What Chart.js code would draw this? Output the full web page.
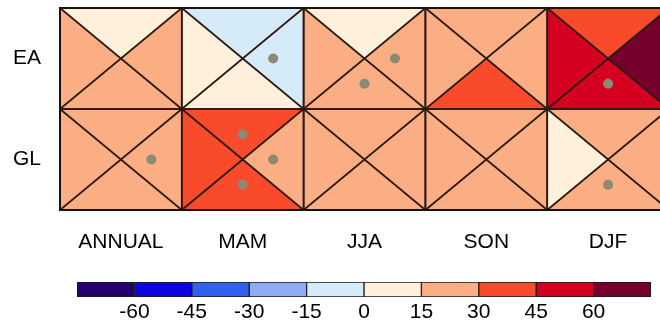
<!DOCTYPE html>
<html>
<head>
<meta charset="utf-8">
<script src="https://cdn.jsdelivr.net/npm/chart.js@4.4.1/dist/chart.umd.min.js"></script>
<style>
  html, body { margin: 0; padding: 0; background: #fff; width: 660px; height: 324px; overflow: hidden; }
  #grid-chart { position: absolute; left: 0; top: 0; }
  #bar-chart  { position: absolute; left: 0; top: 270px; }
</style>
</head>
<body>
<canvas id="grid-chart" width="680" height="324"></canvas>
<canvas id="bar-chart" width="660" height="54"></canvas>
<script>
// ── Data ──────────────────────────────────────────────────────
const COLUMNS = ['ANNUAL', 'MAM', 'JJA', 'SON', 'DJF'];
const ROWS    = ['EA', 'GL'];

// one value per triangle: [row][column]
const TOP_VALS    = [[ 8, -6, 10, 20, 38], [22, 38, 20, 22, 18]];
const RIGHT_VALS  = [[22, -8, 24, 22, 68], [25, 26, 20, 21, 22]];
const BOTTOM_VALS = [[22,  7, 20, 36, 52], [21, 40, 20, 20, 25]];
const LEFT_VALS   = [[22,  5, 21, 23, 50], [20, 35, 20, 23,  9]];

// significant triangles: [row, column, side]
const SIG_POINTS = [
  ['EA', 'MAM', 'right'], ['EA', 'JJA', 'right'], ['EA', 'JJA', 'bottom'],
  ['EA', 'DJF', 'bottom'], ['GL', 'ANNUAL', 'right'], ['GL', 'MAM', 'top'],
  ['GL', 'MAM', 'right'], ['GL', 'MAM', 'bottom'], ['GL', 'DJF', 'bottom'],
];

const LEVELS       = [-75, -60, -45, -30, -15, 0, 15, 30, 45, 60, 75];
const LEVEL_COLORS = ['#24006e', '#0c06e0', '#3460f2', '#8cadf4', '#d6ebfa',
                      '#fff0db', '#fbad84', '#fa4a2c', '#d5001f', '#74002b'];
const BAR_TICKS    = [-60, -45, -30, -15, 0, 15, 30, 45, 60];

// ── Helpers ───────────────────────────────────────────────────
const FONT      = { family: "'Liberation Sans', Arial, sans-serif", size: 21 };
const LINE_CLR  = '#2b1a12';
const DOT_CLR   = '#8b8a72';

function levelColor(v) {
  for (let i = 0; i < LEVEL_COLORS.length; i++) {
    if (v < LEVELS[i + 1]) return LEVEL_COLORS[i];
  }
  return LEVEL_COLORS[LEVEL_COLORS.length - 1];
}

const SIDE_VALS   = { top: TOP_VALS, right: RIGHT_VALS, bottom: BOTTOM_VALS, left: LEFT_VALS };
const SIDE_OFFSET = { top: [0, -0.25], right: [0.25, 0], bottom: [0, 0.25], left: [-0.25, 0] };

/** Fills the four triangles of each cell and draws cell edges + diagonals. */
const trianglePlugin = {
  id: 'triangles',
  beforeDatasetsDraw(chart) {
    const { ctx, scales: { x, y } } = chart;
    ctx.save();
    ROWS.forEach((_, r) => COLUMNS.forEach((_, c) => {
      const x0 = x.getPixelForValue(c), x1 = x.getPixelForValue(c + 1);
      const y0 = y.getPixelForValue(r), y1 = y.getPixelForValue(r + 1);
      const xm = (x0 + x1) / 2, ym = (y0 + y1) / 2;
      const edges = {
        top:    [[x0, y0], [x1, y0]],
        right:  [[x1, y0], [x1, y1]],
        bottom: [[x1, y1], [x0, y1]],
        left:   [[x0, y1], [x0, y0]],
      };
      for (const side in edges) {
        ctx.beginPath();
        ctx.moveTo(xm, ym);
        edges[side].forEach(p => ctx.lineTo(p[0], p[1]));
        ctx.closePath();
        ctx.fillStyle = levelColor(SIDE_VALS[side][r][c]);
        ctx.fill();
      }
    }));

    ctx.strokeStyle = LINE_CLR;
    ctx.lineWidth = 1.7;
    ROWS.forEach((_, r) => COLUMNS.forEach((_, c) => {
      const x0 = x.getPixelForValue(c), x1 = x.getPixelForValue(c + 1);
      const y0 = y.getPixelForValue(r), y1 = y.getPixelForValue(r + 1);
      ctx.beginPath();
      ctx.moveTo(x0, y0); ctx.lineTo(x1, y1);
      ctx.moveTo(x1, y0); ctx.lineTo(x0, y1);
      ctx.stroke();
      ctx.strokeRect(x0, y0, x1 - x0, y1 - y0);
    }));
    // heavier outer frame
    const { left, top, right, bottom } = chart.chartArea;
    ctx.lineWidth = 2;
    ctx.strokeStyle = '#1a120c';
    ctx.strokeRect(left, top, right - left, bottom - top);
    ctx.restore();
  },
};

// ── Grid chart ────────────────────────────────────────────────
const sigData = SIG_POINTS.map(([row, col, side]) => ({
  x: COLUMNS.indexOf(col) + 0.5 + SIDE_OFFSET[side][0],
  y: ROWS.indexOf(row) + 0.5 + SIDE_OFFSET[side][1],
}));

new Chart(document.getElementById('grid-chart'), {
  type: 'scatter',
  data: {
    datasets: [{
      data: sigData,
      pointRadius: 5,
      pointBackgroundColor: DOT_CLR,
      pointBorderWidth: 0,
    }],
  },
  options: {
    responsive: false,
    animation: false,
    devicePixelRatio: 1,
    layout: { padding: { top: 8, right: 11, left: 0, bottom: 0 } },
    plugins: { legend: { display: false }, tooltip: { enabled: false } },
    scales: {
      x: {
        type: 'linear', min: 0, max: 5,
        afterBuildTicks: s => { s.ticks = COLUMNS.map((_, i) => ({ value: i + 0.5 })); },
        afterFit: s => { s.height = 114; s.paddingLeft = 0; s.paddingRight = 0; },
        grid: { display: false, drawTicks: false },
        border: { display: false },
        ticks: { callback: (v, i) => COLUMNS[i], font: FONT, color: '#000', padding: 20, maxRotation: 0, autoSkip: false },
      },
      y: {
        type: 'linear', min: 0, max: 2, reverse: true,
        afterBuildTicks: s => { s.ticks = ROWS.map((_, i) => ({ value: i + 0.5 })); },
        afterFit: s => { s.width = 60; s.paddingTop = 0; s.paddingBottom = 0; },
        grid: { display: false, drawTicks: false },
        border: { display: false },
        ticks: { callback: (v, i) => ROWS[i], font: FONT, color: '#000', padding: 19, autoSkip: false },
      },
    },
  },
  plugins: [trianglePlugin],
});

// ── Colour bar ────────────────────────────────────────────────
new Chart(document.getElementById('bar-chart'), {
  type: 'bar',
  data: {
    labels: [''],
    datasets: LEVEL_COLORS.map((col, i) => ({
      data: [[LEVELS[i], LEVELS[i + 1]]],
      backgroundColor: col,
      borderColor: '#1a1a1a',
      borderWidth: 1,
      borderSkipped: false,
      grouped: false,
      barPercentage: 1,
      categoryPercentage: 1,
    })),
  },
  options: {
    indexAxis: 'y',
    responsive: false,
    animation: false,
    devicePixelRatio: 1,
    layout: { padding: { left: 77, right: 9, top: 12, bottom: 0 } },
    plugins: { legend: { display: false }, tooltip: { enabled: false } },
    scales: {
      y: { display: false },
      x: {
        type: 'linear', min: -75, max: 75,
        afterBuildTicks: s => { s.ticks = BAR_TICKS.map(v => ({ value: v })); },
        afterFit: s => { s.height = 27; },
        grid: { display: false, drawTicks: false },
        border: { display: false },
        ticks: { font: FONT, color: '#000', padding: 3, maxRotation: 0, autoSkip: false },
      },
    },
  },
});
</script>
</body>
</html>
